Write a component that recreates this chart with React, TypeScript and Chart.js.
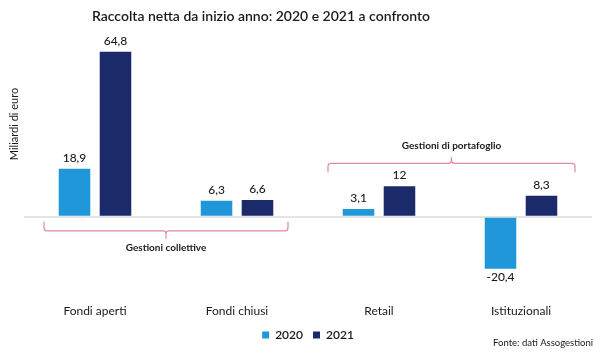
import React, { useEffect, useRef } from "react";
import { Chart, registerables } from "chart.js";

Chart.register(...registerables);

const chartTitle = "Raccolta netta da inizio anno: 2020 e 2021 a confronto";
const yAxisTitle = "Miliardi di euro";
const sourceNote = "Fonte: dati Assogestioni";
const categories = ["Fondi aperti", "Fondi chiusi", "Retail", "Istituzionali"];
const seriesLabels = ["2020", "2021"];
const values2020 = [18.9, 6.3, 3.1, -20.4];
const values2021 = [64.8, 6.6, 12, 8.3];
const groupLabels = ["Gestioni collettive", "Gestioni di portafoglio"];

const FONT = "Lato, 'Noto Sans', sans-serif";
const LIGHT = "#1f97d9";
const DARK = "#1b2a6b";
const PINK = "#e58a98";

function bracket(ctx: CanvasRenderingContext2D, x0: number, x1: number, yLine: number, yEnd: number, yTip: number) {
  const r = 3;
  const dir = yEnd > yLine ? 1 : -1;
  const xm = (x0 + x1) / 2;
  ctx.beginPath();
  ctx.moveTo(x0, yEnd);
  ctx.lineTo(x0, yLine + dir * r);
  ctx.quadraticCurveTo(x0, yLine, x0 + r, yLine);
  ctx.lineTo(xm - r, yLine);
  ctx.quadraticCurveTo(xm, yLine, xm, yLine - dir * r);
  ctx.lineTo(xm, yTip);
  ctx.moveTo(xm, yLine - dir * r);
  ctx.quadraticCurveTo(xm, yLine, xm + r, yLine);
  ctx.lineTo(x1 - r, yLine);
  ctx.quadraticCurveTo(x1, yLine, x1, yLine + dir * r);
  ctx.lineTo(x1, yEnd);
  ctx.stroke();
}

const annotations = {
  id: "annotations",
  afterDatasetsDraw(chart: any) {
    const ctx: CanvasRenderingContext2D = chart.ctx;
    const xs = chart.scales.x;
    const ys = chart.scales.y;
    ctx.save();
    ctx.fillStyle = "#1a1a1a";
    ctx.font = `500 12px ${FONT}`;
    ctx.textAlign = "center";
    ctx.textBaseline = "middle";
    chart.data.datasets.forEach((ds: any, di: number) => {
      const meta = chart.getDatasetMeta(di);
      meta.data.forEach((bar: any, i: number) => {
        const v = ds.data[i];
        const txt = String(v).replace(".", ",");
        ctx.fillText(txt, bar.x, v >= 0 ? bar.y - 11 : bar.y + 8);
      });
    });

    ctx.strokeStyle = PINK;
    ctx.lineWidth = 1.2;
    const y0 = ys.getPixelForValue(0);
    const half = 51;
    const c0 = xs.getPixelForValue(0) - half;
    const c1 = xs.getPixelForValue(1) + half;
    bracket(ctx, c0, c1, y0 + 14, y0 + 5, y0 + 22);
    const p0 = xs.getPixelForValue(2) - half;
    const p1 = xs.getPixelForValue(3) + half + 3;
    const py = ys.getPixelForValue(21);
    bracket(ctx, p0, p1, py, py + 9, py - 6);

    ctx.fillStyle = "#1a1a1a";
    ctx.font = `700 10px ${FONT}`;
    ctx.fillText(groupLabels[0], (c0 + c1) / 2, y0 + 31);
    ctx.fillText(groupLabels[1], (p0 + p1) / 2, py - 18);

    ctx.font = `600 14px ${FONT}`;
    ctx.fillText(chartTitle, 261, 16);

    ctx.save();
    ctx.translate(14, 124);
    ctx.rotate(-Math.PI / 2);
    ctx.font = `400 11px ${FONT}`;
    ctx.fillText(yAxisTitle, 0, 0);
    ctx.restore();

    ctx.textAlign = "right";
    ctx.font = `400 9.5px ${FONT}`;
    ctx.fillText(sourceNote, 593, 343);
    ctx.restore();
  },
};

export default function App() {
  const ref = useRef<HTMLCanvasElement>(null);
  useEffect(() => {
    if (!ref.current) return;
    const chart = new Chart(ref.current, {
      type: "bar",
      data: {
        labels: categories,
        datasets: [
          { label: seriesLabels[0], data: values2020, backgroundColor: LIGHT, categoryPercentage: 0.577, barPercentage: 0.77 },
          { label: seriesLabels[1], data: values2021, backgroundColor: DARK, categoryPercentage: 0.577, barPercentage: 0.77 },
        ],
      },
      options: {
        animation: false,
        responsive: true,
        maintainAspectRatio: false,
        layout: { padding: { left: 24, right: 8, top: 45, bottom: 5 } },
        scales: {
          x: {
            grid: { display: false, drawTicks: false },
            border: { display: false },
            ticks: { color: "#1a1a1a", font: { family: FONT, size: 12 }, padding: 1 },
          },
          y: {
            min: -33.7,
            max: 67.45,
            grid: {
              drawTicks: false,
              lineWidth: 2,
              color: (c: any) => (c.tick && c.tick.value === 0 ? "#e4e4e4" : "rgba(0,0,0,0)"),
            },
            border: { display: false },
            ticks: { display: false, stepSize: 10 },
          },
        },
        plugins: {
          tooltip: { enabled: false },
          title: { display: false },
          legend: {
            position: "bottom",
            labels: {
              boxWidth: 7,
              boxHeight: 7,
              color: "#1a1a1a",
              font: { family: FONT, size: 12, weight: "600" as any },
              padding: 10,
            },
          },
        },
      },
      plugins: [annotations],
    });
    return () => chart.destroy();
  }, []);
  return (
    <div style={{ position: "fixed", left: 0, top: 0, width: 600, height: 356, background: "#fff" }}>
      <canvas ref={ref} />
    </div>
  );
}
